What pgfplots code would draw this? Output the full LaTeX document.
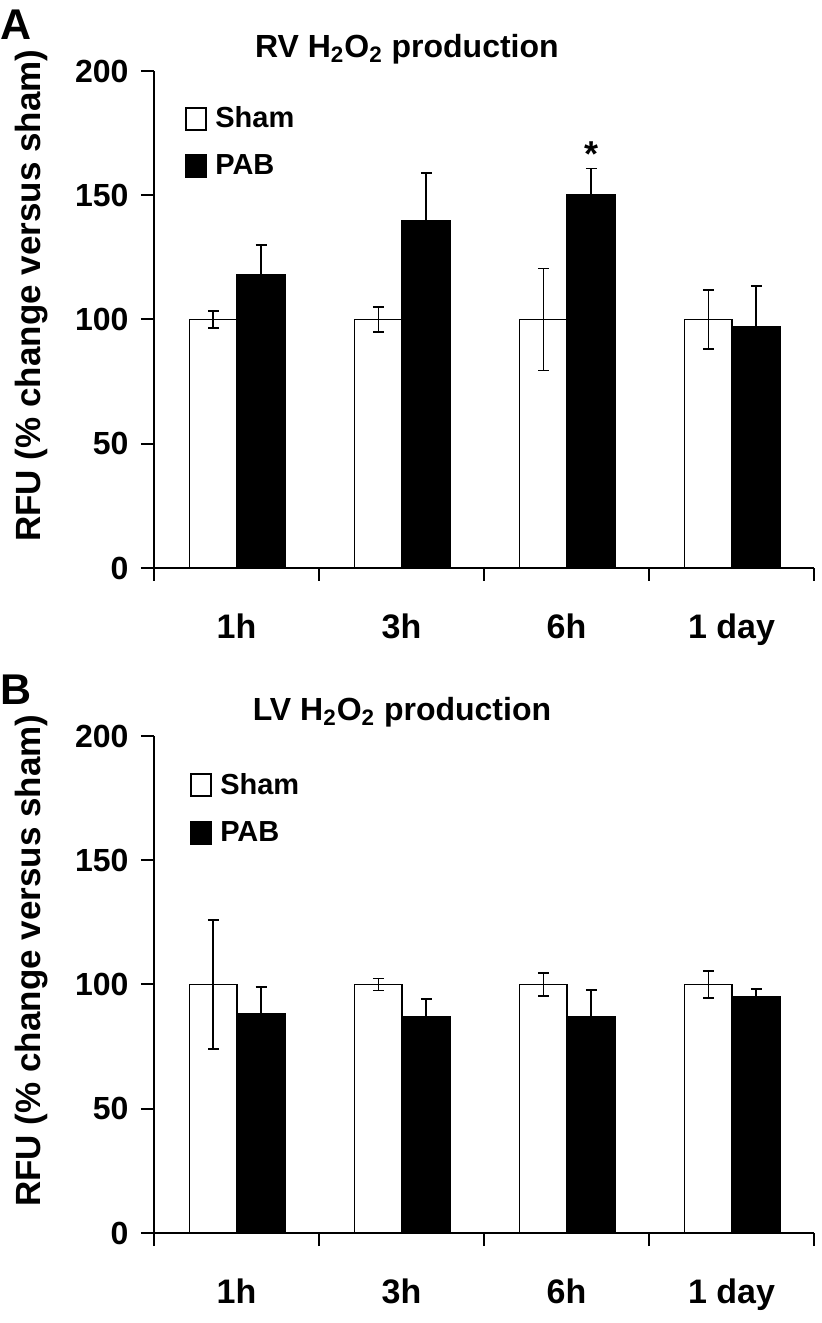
\documentclass[border=0pt]{standalone}
\usepackage{fontspec}
\setmainfont{Liberation Sans}
\usepackage{pgfplots}
\pgfplotsset{compat=1.18}

\pgfplotsset{
  panel/.style={
    scale only axis, width=330pt, height=248.5pt,
    anchor=south west,
    xmin=0, xmax=4, ymin=0, ymax=200,
    axis x line*=bottom, axis y line*=left,
    axis line style={line width=1pt, -},
    ytick={0,50,100,150,200},
    xtick={0,1,2,3,4}, xticklabels={},
    extra x ticks={0.5,1.5,2.5,3.5},
    extra x tick labels={1h,3h,6h,1 day},
    extra x tick style={major tick length=0pt,
      xticklabel style={yshift=-19.4pt, font=\fontsize{17}{19}\selectfont\bfseries}},
    tick align=outside, major tick length=6.5pt,
    tick style={line width=1pt, black},
    ticklabel style={font=\fontsize{16}{18}\selectfont\bfseries},
    yticklabel style={xshift=-2.7pt},
    /pgf/number format/assume math mode=true,
    ylabel={RFU (\% change versus sham)},
    ylabel style={at={(axis description cs:-0.1727,0.548)}, anchor=base, font=\fontsize{17.5}{20}\selectfont\bfseries},
    title style={anchor=base west, font=\fontsize{16}{18}\selectfont\bfseries},
    legend style={draw=none, fill=none, anchor=north west,
      font=\fontsize{14.5}{16}\selectfont\bfseries, row sep=8pt, inner sep=0pt},
    legend cell align=left,
    clip=false,
  },
}
\pgfkeys{/pgfplots/error bars/errstyle/.style={
    error bar style={line width=0.9pt, black},
    error mark options={rotate=90, mark size=2.75pt, line width=0.9pt, black}}}

\begin{document}
\begin{tikzpicture}
\useasboundingbox (0,0) rectangle (410.5pt,661.5pt);

% Panel A
\begin{axis}[panel, at={(77pt,377.5pt)},
  title={RV H\textsubscript{2}O\textsubscript{2} production},
  title style={at={(axis description cs:0.1424,1.003)}},
  legend style={at={(axis description cs:0.047,0.937)}}]
\addplot[ybar, bar width=0.29, bar shift=0, fill=white, draw=black, line width=0.9pt,
    legend image code/.code={\draw[fill=white,draw=black,line width=0.9pt] (0pt,-5.5pt) rectangle (10pt,5.5pt); \path[draw=none,fill=none] (0pt,0pt) -- (12.5pt,0pt);},
    error bars/.cd, y dir=both, y explicit, errstyle] coordinates {
  (0.36,100) +- (0,3.5)
  (1.36,100) +- (0,5)
  (2.36,100) +- (0,20.5)
  (3.36,100) +- (0,12)
};
\addlegendentry{Sham}
\addplot[ybar, bar width=0.29, bar shift=0, fill=black, draw=black, line width=0.9pt,
    legend image code/.code={\draw[fill=black,draw=black,line width=0.9pt] (0pt,-5.5pt) rectangle (10pt,5.5pt); \path[draw=none,fill=none] (0pt,0pt) -- (12.5pt,0pt);},
    error bars/.cd, y dir=plus, y explicit, errstyle] coordinates {
  (0.65,118) +- (0,12)
  (1.65,139.5) +- (0,19.5)
  (2.65,150) +- (0,10.8)
  (3.65,97) +- (0,16.4)
};
\addlegendentry{PAB}
\node[anchor=north, inner sep=0pt, font=\fontsize{18}{20}\selectfont\bfseries] at (axis cs:2.65,171.5) {*};
\end{axis}

% Panel B
\begin{axis}[panel, at={(77pt,45pt)},
  title={LV H\textsubscript{2}O\textsubscript{2} production},
  title style={at={(axis description cs:0.139,1.008)}},
  legend style={at={(axis description cs:0.0545,0.934)}}]
\addplot[ybar, bar width=0.29, bar shift=0, fill=white, draw=black, line width=0.9pt,
    legend image code/.code={\draw[fill=white,draw=black,line width=0.9pt] (0pt,-5.5pt) rectangle (10pt,5.5pt); \path[draw=none,fill=none] (0pt,0pt) -- (12.5pt,0pt);},
    error bars/.cd, y dir=both, y explicit, errstyle] coordinates {
  (0.36,100) +- (0,26)
  (1.36,100) +- (0,2.4)
  (2.36,100) +- (0,4.6)
  (3.36,100) +- (0,5.4)
};
\addlegendentry{Sham}
\addplot[ybar, bar width=0.29, bar shift=0, fill=black, draw=black, line width=0.9pt,
    legend image code/.code={\draw[fill=black,draw=black,line width=0.9pt] (0pt,-5.5pt) rectangle (10pt,5.5pt); \path[draw=none,fill=none] (0pt,0pt) -- (12.5pt,0pt);},
    error bars/.cd, y dir=plus, y explicit, errstyle] coordinates {
  (0.65,88) +- (0,11)
  (1.65,86.8) +- (0,7.5)
  (2.65,86.8) +- (0,11)
  (3.65,95.2) +- (0,3)
};
\addlegendentry{PAB}
\end{axis}

\node[anchor=base west, inner sep=0pt, font=\fontsize{21.5}{24}\selectfont\bfseries] at (0pt,641.5pt) {A};
\node[anchor=base west, inner sep=0pt, font=\fontsize{21.5}{24}\selectfont\bfseries] at (0pt,309pt) {B};
\end{tikzpicture}
\end{document}
